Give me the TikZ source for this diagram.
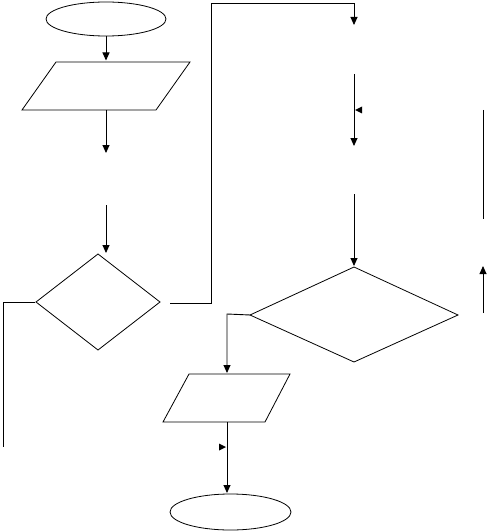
\documentclass[tikz,border=0pt]{standalone}
\usetikzlibrary{arrows.meta,shapes.geometric}
\begin{document}
\begin{tikzpicture}[x=1pt,y=-1pt,line width=0.9pt,line join=miter,
  flow/.style={-{Triangle[length=8pt,width=7pt]}},
  term/.style={draw,ellipse,inner sep=0pt,line width=0.8pt},
  outline/.style={draw,line width=0.8pt},
  tip/.style={fill=black}]
\useasboundingbox (0,0) rectangle (488,532);
% terminals
\node[term,minimum width=120pt,minimum height=34pt] (start) at (106,19) {};
\node[term,minimum width=121pt,minimum height=36pt] (stop) at (230.5,512) {};
% parallelogram 1
\coordinate (p1a) at (56,62); \coordinate (p1b) at (190,62);
\coordinate (p1c) at (156,110); \coordinate (p1d) at (22,110);
\draw[outline] (p1a)--(p1b)--(p1c)--(p1d)--cycle;
% diamond 1
\coordinate (d1t) at (98,254); \coordinate (d1r) at (160,302);
\coordinate (d1b) at (98,350); \coordinate (d1l) at (36,302);
\draw[outline] (d1t)--(d1r)--(d1b)--(d1l)--cycle;
% diamond 2
\coordinate (d2t) at (354,267); \coordinate (d2r) at (458,315);
\coordinate (d2b) at (354,362); \coordinate (d2l) at (250,315);
\draw[outline] (d2t)--(d2r)--(d2b)--(d2l)--cycle;
% parallelogram 2
\coordinate (p2a) at (189,374); \coordinate (p2b) at (290,374);
\coordinate (p2c) at (265,422); \coordinate (p2d) at (163,422);
\draw[outline] (p2a)--(p2b)--(p2c)--(p2d)--cycle;
% connector coordinates
\coordinate (a1e) at (106,60.5);
\coordinate (a2s) at (106,110); \coordinate (a2e) at (106,153);
\coordinate (a3s) at (106,205); \coordinate (a3e) at (106,253);
\coordinate (l1) at (35,302); \coordinate (l2) at (3,302); \coordinate (l3) at (3,447);
\coordinate (r1) at (170,303); \coordinate (r2) at (211,303); \coordinate (r3) at (211,3);
\coordinate (r4) at (354,3); \coordinate (r5) at (354,25);
\coordinate (b1s) at (354,74); \coordinate (b1e) at (354,146);
\coordinate (v1s) at (483,110); \coordinate (v1e) at (483,219);
\coordinate (u1s) at (483,313); \coordinate (u1e) at (483,266);
\coordinate (b2s) at (354,194); \coordinate (b2e) at (354,266);
\coordinate (q1) at (227,314); \coordinate (q2) at (227,373);
\coordinate (s1) at (227,422); \coordinate (s2) at (227,493);
% connectors
\draw[flow] (start.south) -- (a1e);
\draw[flow] (a2s) -- (a2e);
\draw[flow] (a3s) -- (a3e);
\draw (l1) -- (l2) -- (l3);
\draw[flow] (r1) -- (r2) -- (r3) -- (r4) -- (r5);
\draw[flow] (b1s) -- (b1e);
\draw (v1s) -- (v1e);
\draw[flow] (u1s) -- (u1e);
\draw[flow] (b2s) -- (b2e);
\draw[flow] (d2l) -- (q1) -- (q2);
\draw[flow] (s1) -- (s2);
% loose arrowheads
\fill[tip] (355,110) -- (362,106.5) -- (362,113.5) -- cycle;
\fill[tip] (226,447) -- (219,443.5) -- (219,450.5) -- cycle;
\end{tikzpicture}
\end{document}
